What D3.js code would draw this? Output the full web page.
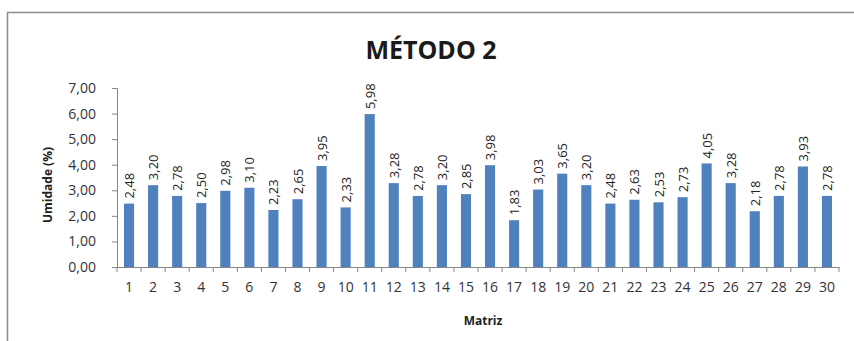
<!DOCTYPE html>
<html>
<head>
<meta charset="utf-8">
<script src="https://cdn.jsdelivr.net/npm/d3@7"></script>
<style>
  html, body { margin: 0; padding: 0; background: #fff; }
  svg { display: block; }
</style>
</head>
<body>
<svg id="chart" width="854" height="341"></svg>
<script>
// Umidade (%) por matriz, método 2
const categories = d3.range(1, 31).map(String);
const values = [2.48, 3.20, 2.78, 2.50, 2.98, 3.10, 2.23, 2.65, 3.95, 2.33,
                5.98, 3.28, 2.78, 3.20, 2.85, 3.98, 1.83, 3.03, 3.65, 3.20,
                2.48, 2.63, 2.53, 2.73, 4.05, 3.28, 2.18, 2.78, 3.93, 2.78];
const yTicks = [0, 1, 2, 3, 4, 5, 6, 7];
const title = "MÉTODO 2";
const xTitle = "Matriz";
const yTitle = "Umidade (%)";

const fmt = v => v.toFixed(2).replace(".", ",");

const svg = d3.select("#chart");

// outer chart frame
svg.append("rect")
  .attr("x", 7.5).attr("y", 12.5)
  .attr("width", 860).attr("height", 340)
  .attr("fill", "#fff").attr("stroke", "#8c8c8c").attr("stroke-width", 1.5);

const x = d3.scaleBand().domain(categories).range([117, 839]).paddingInner(0.58).paddingOuter(0.29);
const y = d3.scaleLinear().domain([0, 7]).range([267, 88]);

const font = "'Open Sans', 'Liberation Sans', sans-serif";

// title
svg.append("text")
  .attr("x", 431).attr("y", 59)
  .attr("text-anchor", "middle")
  .attr("font-family", font).attr("font-weight", "bold")
  .attr("font-size", 25).attr("fill", "#1a1a1a")
  .text(title);

// bars
svg.append("g").selectAll("rect").data(values).join("rect")
  .attr("x", (d, i) => x(categories[i]))
  .attr("y", d => y(d))
  .attr("width", x.bandwidth())
  .attr("height", d => y(0) - y(d))
  .attr("fill", "#4f81bd");

// value labels, rotated
svg.append("g").selectAll("text").data(values).join("text")
  .attr("transform", (d, i) => `translate(${x(categories[i]) + x.bandwidth() / 2 + 5},${y(d) - 5}) rotate(-90)`)
  .attr("font-family", font).attr("font-size", 13).attr("fill", "#222")
  .text(d => fmt(d));

// y axis
const yAxis = svg.append("g").attr("transform", "translate(117,0)")
  .call(d3.axisLeft(y).tickValues(yTicks).tickSize(5).tickSizeOuter(5).tickPadding(16).tickFormat(fmt));
yAxis.select(".domain").attr("stroke", "#868686");
yAxis.selectAll(".tick line").attr("stroke", "#868686");
yAxis.selectAll(".tick text").attr("font-family", font).attr("font-size", 14).attr("fill", "#333");

// x axis: ticks sit between categories
const xAxis = svg.append("g").attr("transform", "translate(0,267)")
  .call(d3.axisBottom(x).tickSize(0).tickPadding(15));
xAxis.select(".domain").attr("stroke", "#868686");
xAxis.selectAll(".tick text").attr("font-family", font).attr("font-size", 14).attr("fill", "#333");
const step = x.step();
xAxis.append("g").selectAll("line").data(d3.range(categories.length + 1)).join("line")
  .attr("x1", i => 117 + i * step).attr("x2", i => 117 + i * step)
  .attr("y1", 0).attr("y2", 5)
  .attr("stroke", "#868686");

// axis titles
svg.append("text")
  .attr("x", 483).attr("y", 325)
  .attr("text-anchor", "middle")
  .attr("font-family", font).attr("font-weight", "bold")
  .attr("font-size", 12).attr("fill", "#222")
  .text(xTitle);

svg.append("text")
  .attr("transform", "translate(52,185) rotate(-90)")
  .attr("text-anchor", "middle")
  .attr("font-family", font).attr("font-weight", "bold")
  .attr("font-size", 12).attr("fill", "#222")
  .text(yTitle);
</script>
</body>
</html>
